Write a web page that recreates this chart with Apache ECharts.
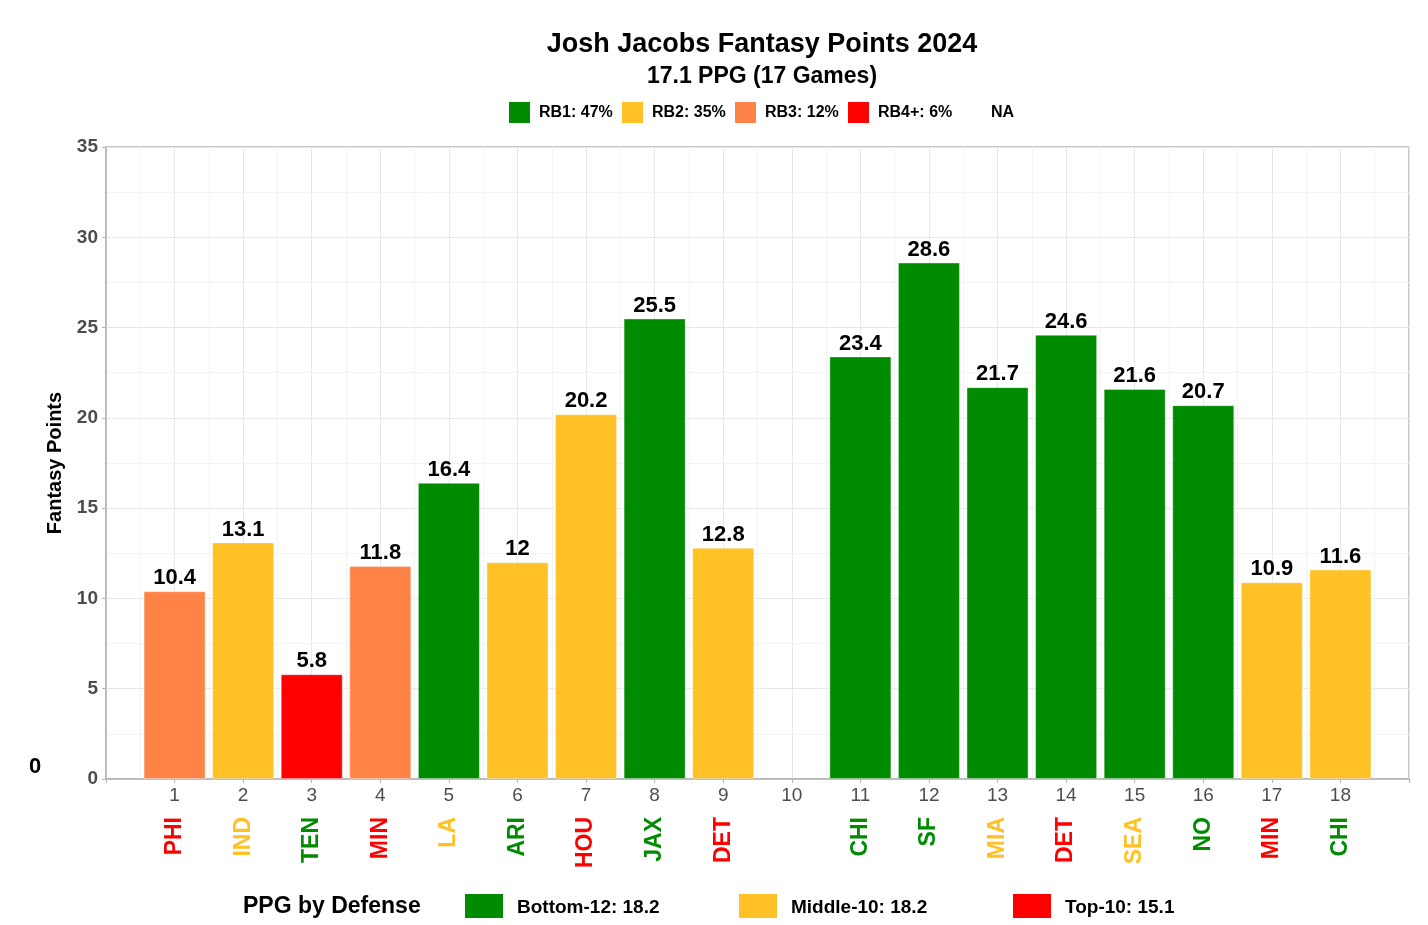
<!DOCTYPE html>
<html>
<head>
<meta charset="utf-8">
<script src="https://cdn.jsdelivr.net/npm/echarts@6/dist/echarts.min.js"></script>
<style>html,body{margin:0;padding:0;background:#fff}#c{width:1428px;height:925px}</style>
</head>
<body>
<div id="c"></div>
<script>
// ---- data ----
const weeks = [1,2,3,4,5,6,7,8,9,10,11,12,13,14,15,16,17,18];
const points = [10.4,13.1,5.8,11.8,16.4,12,20.2,25.5,12.8,null,23.4,28.6,21.7,24.6,21.6,20.7,10.9,11.6];
const rbTier = ['RB3','RB2','RB4','RB3','RB1','RB2','RB2','RB1','RB2',null,'RB1','RB1','RB1','RB1','RB1','RB1','RB2','RB2'];
const teams = ['PHI','IND','TEN','MIN','LA','ARI','HOU','JAX','DET','','CHI','SF','MIA','DET','SEA','NO','MIN','CHI'];
const defTier = ['Top','Mid','Bot','Top','Mid','Bot','Top','Bot','Top',null,'Bot','Bot','Mid','Top','Mid','Bot','Top','Bot'];
const rbLegend = ['RB1: 47%','RB2: 35%','RB3: 12%','RB4+: 6%','NA'];
const defLegend = ['Bottom-12: 18.2','Middle-10: 18.2','Top-10: 15.1'];
const yTicks = [0,5,10,15,20,25,30,35];

const C = {green:'#008B00', yellow:'#FFC125', orange:'#FF8247', red:'#FF0000'};
const rbColor = {RB1:C.green, RB2:C.yellow, RB3:C.orange, RB4:C.red};
const defColor = {Bot:C.green, Mid:C.yellow, Top:C.red};
const FONT = 'Liberation Sans, Arial, sans-serif';
const NARROW = 'Liberation Sans Narrow, Liberation Sans, Arial, sans-serif';

const barData = [];
weeks.forEach((w,i)=>{
  if(points[i]!=null) barData.push({value:[w,points[i]], itemStyle:{color:rbColor[rbTier[i]]}});
});

const rich = {};
Object.keys(defColor).forEach(k=>{ rich[k] = {color:defColor[k], fontWeight:'bold', fontSize:23, fontFamily:FONT}; });

const chart = echarts.init(document.getElementById('c'), null, {renderer:'canvas'});

// legend graphics
const graphics = [];
const legCols = [C.green,C.yellow,C.orange,C.red,null];
const legX0 = 509, legStep = 113;
rbLegend.forEach((t,i)=>{
  const x = legX0 + i*legStep;
  if(legCols[i]) graphics.push({type:'rect', left:x, top:102, shape:{width:21,height:21}, style:{fill:legCols[i]}});
  graphics.push({type:'text', left:x+30, top:105, style:{text:t, font:'bold 16px '+FONT, fill:'#000'}});
});
graphics.push({type:'text', left:243, top:895, style:{text:'PPG by Defense', font:'bold 23px '+FONT, fill:'#000'}});
const dCols = [C.green,C.yellow,C.red];
const dX = [465,739,1013];
defLegend.forEach((t,i)=>{
  graphics.push({type:'rect', left:dX[i], top:894, shape:{width:38,height:24}, style:{fill:dCols[i]}});
  graphics.push({type:'text', left:dX[i]+52, top:898, style:{text:t, font:'bold 19px '+NARROW, fill:'#000'}});
});
graphics.push({type:'text', left:29, top:756, style:{text:'0', font:'bold 22px '+FONT, fill:'#000'}});

chart.setOption({
  animation:false,
  backgroundColor:'#fff',
  title:{
    text:'Josh Jacobs Fantasy Points 2024',
    subtext:'17.1 PPG (17 Games)',
    left:757, top:26, textAlign:'center', itemGap:7,
    textStyle:{fontFamily:FONT, fontWeight:'bold', fontSize:27, color:'#000'},
    subtextStyle:{fontFamily:FONT, fontWeight:'bold', fontSize:23, color:'#000'}
  },
  grid:{left:106, right:19, top:147, bottom:146, show:true, borderColor:'#B3B3B3', borderWidth:1.5},
  xAxis:[{
    type:'value', min:0, max:19, interval:1,
    axisLine:{show:true, onZero:false, lineStyle:{color:'#B3B3B3', width:1.5}},
    axisTick:{show:true, length:4, lineStyle:{color:'#B3B3B3'}},
    axisLabel:{margin:7, fontSize:19, fontFamily:NARROW, color:'#4D4D4D',
      formatter:v=> (weeks.indexOf(v)>=0 ? String(v) : '')},
    splitLine:{show:true, lineStyle:{color:'#E8E8E8', width:1}},
    minorTick:{show:false, splitNumber:2},
    minorSplitLine:{show:true, lineStyle:{color:'#F3F3F3', width:1}}
  },{
    type:'value', min:0, max:19, interval:1, position:'bottom',
    axisLine:{show:false}, axisTick:{show:false}, splitLine:{show:false},
    axisLabel:{margin:38, rotate:90, rich:rich,
      formatter:v=>{ const i = weeks.indexOf(v); if(i<0||!teams[i]) return ''; return '{'+defTier[i]+'|'+teams[i]+'}'; }}
  }],
  yAxis:{
    type:'value', min:0, max:35, interval:5,
    name:'Fantasy Points', nameLocation:'middle', nameGap:36,
    nameTextStyle:{fontFamily:NARROW, fontWeight:'bold', fontSize:20, color:'#000'},
    axisLine:{show:true, lineStyle:{color:'#B3B3B3', width:1.5}},
    axisTick:{show:true, length:4, lineStyle:{color:'#B3B3B3'}},
    axisLabel:{margin:8, fontSize:19, fontWeight:'bold', fontFamily:FONT, color:'#4D4D4D',
      formatter:v=> (yTicks.indexOf(v)>=0 ? String(v):'')},
    splitLine:{show:true, lineStyle:{color:'#E8E8E8', width:1}},
    minorTick:{show:false, splitNumber:2},
    minorSplitLine:{show:true, lineStyle:{color:'#F3F3F3', width:1}}
  },
  series:[{
    type:'bar', xAxisIndex:0, data:barData, barWidth:62,
    itemStyle:{borderColor:'rgba(255,255,255,0.35)', borderWidth:1},
    label:{show:true, position:'top', distance:2, fontFamily:FONT, fontWeight:'bold', fontSize:22, color:'#000',
      formatter:p=>String(p.value[1])}
  }],
  graphic:graphics
});
</script>
</body>
</html>
